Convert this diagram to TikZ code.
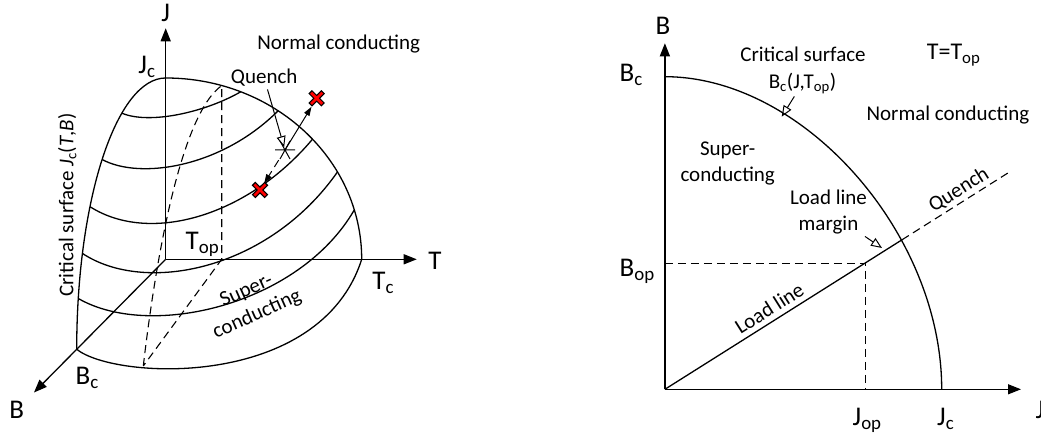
\documentclass[tikz,border=0pt]{standalone}
\usepackage{fontspec}
\setmainfont{Carlito}
\usetikzlibrary{arrows.meta,positioning}

\tikzset{
  redx/.pic={
    \draw[line width=5pt] (-6.5,-6.5) -- (6.5,6.5) (-6.5,6.5) -- (6.5,-6.5);
    \draw[red, line width=2.8pt] (-5.6,-5.6) -- (5.6,5.6) (-5.6,5.6) -- (5.6,-5.6);
  }
}

\begin{document}
\begin{tikzpicture}[x=1pt, y=1pt, line width=1.3pt,
  axis/.style={-{Triangle[length=13pt,width=10pt]}},
  dline/.style={dash pattern=on 8pt off 5pt, line width=1.1pt},
  lbl/.style={font=\fontsize{21}{26}\selectfont, inner sep=2pt},
  axlbl/.style={font=\fontsize{27}{32}\selectfont, inner sep=0pt},
  openarr/.style={-{Triangle[open,length=11pt,width=9pt]}, line width=1pt},
  smallarr/.style={-{Triangle[length=9pt,width=6pt]}, line width=1pt}
]
\useasboundingbox (0,0) rectangle (1041,435);

% ---- left: critical surface J_c(T,B)
\coordinate (o) at (165.7,175.7);
\coordinate (pj) at (165.7,357);
\coordinate (pt) at (361.7,175.7);
\coordinate (pb) at (76.7,85.7);
\coordinate (jtip) at (165.7,406.7);
\coordinate (ttip) at (416.7,175.7);
\coordinate (btip) at (34,42.5);

\draw (pj) arc[start angle=90, end angle=0, x radius=196pt, y radius=181.3pt];
\draw (pb) arc[start angle=180, end angle=90, x radius=89pt, y radius=271.3pt];
\draw (pb) .. controls (115,55) and (320,45) .. (pt);

% lines of constant J
\draw (121.9,321.8) .. controls (150,310) and (206.1,323.2) .. (240.7,343.2);
\draw (102.1,275.5) .. controls (140,255) and (221.5,267.6) .. (278.1,324.2);
\draw (90,228.3) .. controls (150,190) and (248.2,219.2) .. (312.5,295.8);
\draw (82.4,181.6) .. controls (145,140) and (268.7,164.8) .. (337.5,263.1);
\draw (78.3,136.5) .. controls (150,95) and (299.3,129.8) .. (354.3,225.1);

% cut at T = T_op
\coordinate (qt) at (221.7,349.4);
\coordinate (qa) at (221.7,175.7);
\coordinate (qb) at (143.3,69);
\draw[dline] (qb) .. controls (155,170) and (180,320) .. (qt) -- (qa) -- (qb);

\draw[axis] (o) -- (jtip);
\draw[axis] (o) -- (ttip);
\draw[axis] (o) -- (btip);

\node[axlbl, anchor=base] (jlab) at (165.7,413) {J};
\node[axlbl, anchor=base] (tlab) at (435,165) {T};
\node[axlbl, anchor=base] (blab) at (16.7,16.7) {B};
\node[axlbl, anchor=base] (jclab) at (147,361) {J\textsubscript{c}};
\node[axlbl, anchor=base west] (tclab) at (371.7,145) {T\textsubscript{c}};
\node[axlbl, anchor=base west] (bclab) at (75,50.3) {B\textsubscript{c}};
\node[axlbl, anchor=base west] (toplab) at (185,185) {T\textsubscript{op}};

\node[lbl, anchor=base] (nc1) at (338.7,385) {Normal conducting};
\node[lbl, anchor=base] (qlab) at (264.2,351) {Quench};
\node[lbl, rotate=90, anchor=base] (cs1) at (73.3,230)
  {Critical surface \textit{J}\textsubscript{c}(\textit{T},\textit{B})};
\node[lbl, rotate=24, align=center] (sc1) at (252,132) {Super-\\conducting};

% quench path
\coordinate (star) at (285,285);
\coordinate (xup) at (316.7,336.7);
\coordinate (xlow) at (260,245);
\draw[line width=1pt] (star) +(-10,0) -- +(10,0) +(-5,9) -- +(5,-9) +(5,9) -- +(-5,-9);
\draw[openarr, shorten >=3pt] (qlab) -- (star);
\draw[smallarr, shorten >=10pt] (star) -- (xup);
\draw[smallarr, dline, line width=1pt, shorten <=12pt, shorten >=8pt] (star) -- (xlow);
\pic at (xup) {redx};
\pic at (xlow) {redx};

% ---- right: section at T = T_op
\coordinate (o2) at (664.9,45.7);
\coordinate (btip2) at (664.9,391.7);
\coordinate (jtip2) at (1021,45.7);
\coordinate (bc2) at (664.9,358.3);
\coordinate (jc2) at (941.7,45.7);
\coordinate (lm) at (902,195.2);
\coordinate (qend) at (1008.7,262.5);
\coordinate (op) at (865.1,171.9);

\draw (bc2) .. controls (803.3,358.3) and (941.7,202) .. (jc2);
\draw (o2) -- (lm);
\draw[dline] (lm) -- (qend);
\draw[dline] (o2 |- op) -- (op) -- (op |- o2);
\draw[axis] (o2) -- (btip2);
\draw[axis] (o2) -- (jtip2);

\node[axlbl, anchor=base] (blab2) at (662.9,400) {B};
\node[axlbl, anchor=base west] (jlab2) at (1035,16) {J};
\node[axlbl, anchor=base west] (bclab2) at (619,353.3) {B\textsubscript{c}};
\node[axlbl, anchor=base west] (boplab) at (619,158.3) {B\textsubscript{op}};
\node[axlbl, anchor=base west] (joplab) at (852,9.7) {J\textsubscript{op}};
\node[axlbl, anchor=base west] (jclab2) at (936.5,9.7) {J\textsubscript{c}};
\node[font=\fontsize{24}{28}\selectfont, anchor=base west, inner sep=0pt] (ttop) at (926.2,375) {T=T\textsubscript{op}};

\node[lbl, anchor=base] (cs2) at (803,373.3) {Critical surface};
\node[lbl, anchor=base] (bcj) at (802.5,346.7) {B\textsubscript{c}(J,T\textsubscript{op})};
\node[lbl, anchor=base] (nc2) at (947.9,314.3) {Normal conducting};
\node[lbl, align=center] (sc2) at (727.7,271.7) {Super-\\conducting};
\node[lbl, align=center] (llm) at (828.5,223.3) {Load line\\margin};
\node[lbl, rotate=32.2] (ll) at (769.2,126.7) {Load line};
\node[lbl, rotate=32.2] (qn2) at (958.9,245) {Quench};

\coordinate (bcpt) at (781.7,318.3);
\coordinate (lmpt) at (882,187);
\draw[openarr] (bcj) -- (bcpt);
\draw[openarr] (llm) -- (lmpt);

\end{tikzpicture}
\end{document}
